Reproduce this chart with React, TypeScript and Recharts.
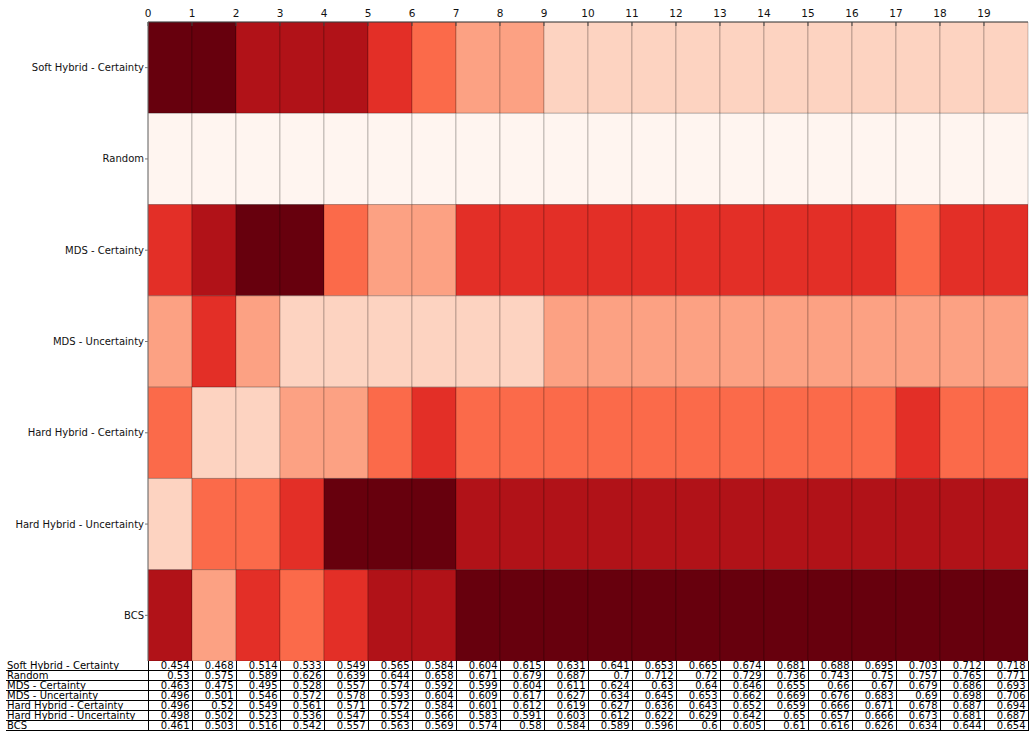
import React from "react";
import { ScatterChart, Scatter, XAxis, YAxis, ReferenceArea } from "recharts";

const methods = [
  "Soft Hybrid - Certainty",
  "Random",
  "MDS - Certainty",
  "MDS - Uncertainty",
  "Hard Hybrid - Certainty",
  "Hard Hybrid - Uncertainty",
  "BCS",
];

const steps = [0, 1, 2, 3, 4, 5, 6, 7, 8, 9, 10, 11, 12, 13, 14, 15, 16, 17, 18, 19];

const softHybridCertainty = [0.454, 0.468, 0.514, 0.533, 0.549, 0.565, 0.584, 0.604, 0.615, 0.631, 0.641, 0.653, 0.665, 0.674, 0.681, 0.688, 0.695, 0.703, 0.712, 0.718];
const random = [0.53, 0.575, 0.589, 0.626, 0.639, 0.644, 0.658, 0.671, 0.679, 0.687, 0.7, 0.712, 0.72, 0.729, 0.736, 0.743, 0.75, 0.757, 0.765, 0.771];
const mdsCertainty = [0.463, 0.475, 0.495, 0.528, 0.557, 0.574, 0.592, 0.599, 0.604, 0.611, 0.624, 0.63, 0.64, 0.646, 0.655, 0.66, 0.67, 0.679, 0.686, 0.693];
const mdsUncertainty = [0.496, 0.501, 0.546, 0.572, 0.578, 0.593, 0.604, 0.609, 0.617, 0.627, 0.634, 0.645, 0.653, 0.662, 0.669, 0.676, 0.683, 0.69, 0.698, 0.706];
const hardHybridCertainty = [0.496, 0.52, 0.549, 0.561, 0.571, 0.572, 0.584, 0.601, 0.612, 0.619, 0.627, 0.636, 0.643, 0.652, 0.659, 0.666, 0.671, 0.678, 0.687, 0.694];
const hardHybridUncertainty = [0.498, 0.502, 0.523, 0.536, 0.547, 0.554, 0.566, 0.583, 0.591, 0.603, 0.612, 0.622, 0.629, 0.642, 0.65, 0.657, 0.666, 0.673, 0.681, 0.687];
const bcs = [0.461, 0.503, 0.516, 0.542, 0.557, 0.563, 0.569, 0.574, 0.58, 0.584, 0.589, 0.596, 0.6, 0.605, 0.61, 0.616, 0.626, 0.634, 0.644, 0.654];

const scores = [
  softHybridCertainty,
  random,
  mdsCertainty,
  mdsUncertainty,
  hardHybridCertainty,
  hardHybridUncertainty,
  bcs,
];

// Reds, light to dark, one shade per rank
const reds = ["#fff5f0", "#fdd3c1", "#fca183", "#fb6a4a", "#e32f27", "#b11218", "#67000d"];

// best score in a column gets the lightest shade; on ties the earlier row ranks higher
const shadeOf = (row: number, col: number) => {
  const order = methods
    .map((_, r) => r)
    .sort((a, b) => scores[b][col] - scores[a][col] || a - b);
  return reds[order.indexOf(row)];
};

const cells = methods.flatMap((_, row) =>
  steps.map((col) => ({ row, col, x: col + 0.5, y: row + 0.5 }))
);

const font = "'DejaVu Sans', sans-serif";

// single-line row label, no wrapping
const MethodTick = (props: any) => {
  const { x, y, payload } = props;
  return (
    <text x={x} y={y} textAnchor="end" dominantBaseline="central" fontSize={10} fill="#111" fontFamily={font}>
      {methods[Math.floor(payload.value)]}
    </text>
  );
};

const cellStyle: React.CSSProperties = {
  borderLeft: "1px solid #000",
  borderBottom: "1px solid #000",
  padding: "0 2px",
  height: 9,
  lineHeight: "9px",
  textAlign: "right",
  whiteSpace: "nowrap",
  overflow: "visible",
};

export default function App() {
  return (
    <div style={{ position: "absolute", left: 0, top: 0, width: 1029, height: 737, background: "#fff", fontFamily: font }}>
      <ScatterChart width={1029} height={661} margin={{ top: 0, right: 1, bottom: 0, left: 0 }}>
        <XAxis
          type="number"
          dataKey="x"
          orientation="top"
          domain={[0, 20]}
          ticks={steps}
          interval={0}
          height={22}
          tickSize={-4}
          tickMargin={9}
          allowDataOverflow
          stroke="#444"
          tick={{ fontSize: 10.5, fill: "#111", fontFamily: font }}
        />
        <YAxis
          type="number"
          dataKey="y"
          domain={[0, 7]}
          reversed
          ticks={methods.map((_, i) => i + 0.5)}
          interval={0}
          width={148}
          tickSize={3}
          tickMargin={1}
          allowDataOverflow
          stroke="#777"
          tick={<MethodTick />}
        />
        {cells.map((c) => (
          <ReferenceArea
            key={`${c.row}-${c.col}`}
            x1={c.col}
            x2={c.col + 1}
            y1={c.row}
            y2={c.row + 1}
            fill={shadeOf(c.row, c.col)}
            fillOpacity={1}
            stroke="rgba(0,0,0,0.22)"
            strokeWidth={1}
          />
        ))}
        <Scatter data={cells} shape={() => <g />} isAnimationActive={false} />
      </ScatterChart>
      <table
        style={{
          position: "absolute",
          left: 6,
          top: 661,
          width: 1022,
          borderCollapse: "collapse",
          tableLayout: "fixed",
          fontSize: 10,
          fontFamily: font,
          color: "#000",
        }}
      >
        <colgroup>
          <col style={{ width: 142 }} />
          {steps.map((s) => (
            <col key={s} style={{ width: 44 }} />
          ))}
        </colgroup>
        <tbody>
          {methods.map((name, row) => (
            <tr key={name}>
              <td style={{ ...cellStyle, borderLeft: "none", textAlign: "left", padding: "0 1px" }}>{name}</td>
              {scores[row].map((v, col) => (
                <td key={col} style={{ ...cellStyle, borderRight: col === steps.length - 1 ? "1px solid #000" : undefined }}>
                  {v}
                </td>
              ))}
            </tr>
          ))}
        </tbody>
      </table>
    </div>
  );
}
